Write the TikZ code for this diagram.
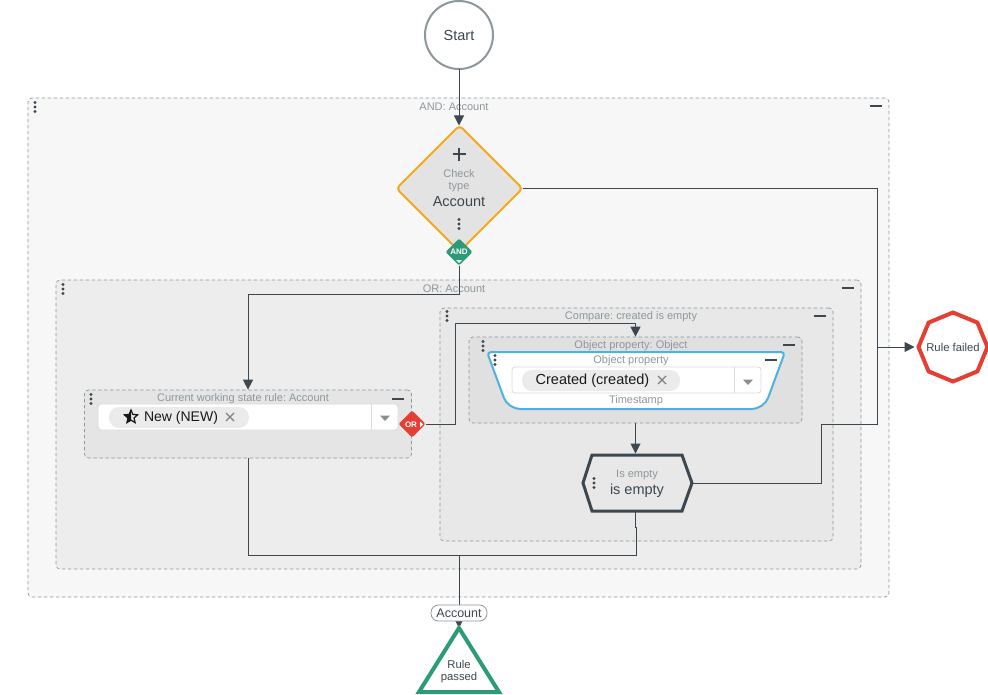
\documentclass[tikz,border=0pt]{standalone}
\usepackage{fontspec}
\setmainfont{Liberation Sans}
\usetikzlibrary{arrows.meta,shapes.geometric}

\definecolor{inkdark}{HTML}{3C4750}
\definecolor{inkgrey}{HTML}{8E979C}
\definecolor{gateorange}{HTML}{F5A81C}
\definecolor{gategreen}{HTML}{2E9B78}
\definecolor{gatered}{HTML}{E53F35}
\definecolor{propblue}{HTML}{4FB0E4}

\tikzset{
  group/.style = {draw=inkgrey, dashed, dash pattern=on 3.5pt off 2.5pt, line width=0.7pt, rounded corners=4pt},
  title/.style = {inkgrey, font=\fontsize{11}{12}\selectfont, inner sep=0pt, yshift=-1pt},
  label/.style = {inkdark, font=\fontsize{14.5}{16}\selectfont, inner sep=0pt, yshift=-1pt},
  small/.style = {inkdark, font=\fontsize{11.3}{12}\selectfont, inner sep=0pt},
  wire/.style = {draw=inkdark, line width=1pt},
  tip/.style = {-{Triangle[length=10pt,width=10pt]}},
  inputbox/.style = {draw=black!14, fill=white, line width=0.8pt, rounded corners=3pt},
  chip/.style = {fill=black!8, rounded corners=10pt},
  hidden/.style = {inner sep=0pt, outer sep=0pt}
}

\begin{document}
\frenchspacing
\begin{tikzpicture}[x=1pt,y=-1pt]
\useasboundingbox (0,0) rectangle (988,695);

% nested groups
\node (groupand) [group, fill=black!3, minimum width=861, minimum height=499] at (458.5,347.5) {};
\node (groupor) [group, fill=black!7, minimum width=805, minimum height=289] at (458.5,424.5) {};
\node (groupcmp) [group, fill=black!9, minimum width=393, minimum height=233] at (636.5,424.5) {};
\node (groupprop) [group, fill=black!12, minimum width=333, minimum height=86] at (635.5,380) {};
\node (current) [group, fill=black!10, minimum width=327, minimum height=68] at (248,424) {};

\node (titleand) [title] at (454,106) {AND: Account};
\node (titleor) [title] at (454,288) {OR: Account};
\node (titlecmp) [title] at (631,316) {Compare: created is empty};
\node (titleprop) [title] at (631,345) {Object property: Object};
\node (titlecur) [title] at (243,398) {Current working state rule: Account};

% named points of the shapes without a node outline
\node (start) [circle, draw=inkgrey, fill=white, line width=2pt, minimum size=68, hidden] at (459,35) {};
\node (check) [diamond, draw=gateorange, fill=black!11, line width=2pt, rounded corners=4pt, minimum width=126, minimum height=126, hidden] at (459.5,188.5) {};
\node (isempty) [minimum width=109, minimum height=56, hidden] at (637.5,483) {};
\node (failed) [regular polygon, regular polygon sides=8, shape border rotate=22.5, draw=gatered, fill=white, line width=4pt, minimum size=69, hidden] at (953,347) {};
\node (passed) [minimum width=80, minimum height=64, hidden] at (459,660) {};
\node (andgate) [diamond, fill=gategreen, rounded corners=2pt, minimum size=27, hidden] at (459,252) {};
\node (orgate) [diamond, fill=gatered, rounded corners=2pt, minimum size=27, hidden] at (412,424) {};
\coordinate (failjoin) at (877,347);
\coordinate (passjoin) at (459,555);

% connectors
\draw[wire,tip] (start.south) -- (start.south |- check.north);
\draw[wire,tip] (andgate) -- ++(0,42) -| (current.north);
\draw[wire] (check.east) -| (failjoin);
\draw[wire,tip,shorten >=4pt] (failjoin) -- (failed.west);
\draw[wire,tip] (orgate.east) -- ++(29.5,0) -- ++(0,-101) -| (groupprop.north);
\draw[wire,tip,shorten >=1.5pt] (groupprop.south) -- (groupprop.south |- isempty.north);
\draw[wire] (isempty.east) -- ++(129,0) -- ++(0,-59) -| (failjoin);
\draw[wire] (current.south) |- (passjoin);
\draw[wire] (groupprop.south |- isempty.south) -- ++(0,16) -- ++(1,0) |- (passjoin);
\draw[wire,tip] (passjoin) -- (passed.north);

% check type
\draw[inkdark, line width=2pt] (452.5,154.5) -- (465.5,154.5) (459,148) -- (459,161);
\node (checka) [title] at (459,173) {Check};
\node (checkb) [title] at (459,186) {type};
\node (checkc) [label] at (459,201) {Account};

\node (andtext) [hidden, white, font=\bfseries\fontsize{8}{8}\selectfont] at (459,251.5) {AND};
\fill[white] (456,260) -- (462,260) -- (459,263) -- cycle;
\node (ortext) [hidden, white, font=\bfseries\fontsize{8}{8}\selectfont] at (411,424.5) {OR};
\fill[white] (420,421.5) -- (423,424.5) -- (420,427.5) -- cycle;

% current working state input
\node (inputcur) [inputbox, minimum width=300, minimum height=26, hidden] at (248,417) {};
\draw[black!14, line width=0.8pt] (371,404) -- (371,430);
\node (chipcur) [chip, minimum width=140, minimum height=21, hidden] at (179,417.5) {};
\node (textcur) [label, black!90, font=\fontsize{14}{16}\selectfont] at (181,417) {New (NEW)};
\node (starcur) [star, star points=5, star point ratio=2.2, draw=black!90, line width=1.2pt, minimum size=14, hidden] at (131,417) {};
\begin{scope}
\clip (120,405) rectangle (131,430);
\node (starfill) [star, star points=5, star point ratio=2.2, fill=black!90, minimum size=14, hidden] at (131,417) {};
\end{scope}

% object property
\draw[draw=propblue, fill=white, line width=2pt] (497,352) [rounded corners=4pt] -- (487,352) [rounded corners=12pt] -- (508,409) -- (764,409) [rounded corners=4pt] -- (785,352) -- cycle;
\node (titleinner) [title] at (631,360) {Object property};
\node (inputprop) [inputbox, minimum width=249, minimum height=26, hidden] at (636.5,380) {};
\draw[black!14, line width=0.8pt] (734,367) -- (734,393);
\node (chipprop) [chip, minimum width=158, minimum height=21, hidden] at (601,380.5) {};
\node (textprop) [label, black!90] at (592.5,380) {Created (created)};
\node (stamp) [title] at (636,400) {Timestamp};

% is empty
\draw[draw=inkdark, fill=black!9, line width=3pt, line join=miter] (isempty.west) -- (592,455) -- (682,455) -- (isempty.east) -- (682,511) -- (592,511) -- cycle;
\node (emptya) [title] at (637,474) {Is empty};
\node (emptyb) [label] at (637,490) {is empty};

% end points
\node (starttext) [label] at (459,35) {Start};
\node (failedtext) [small] at (953,347) {Rule failed};
\node (account) [draw=inkgrey, fill=white, rounded corners=7.5pt, line width=0.8pt, minimum width=56, minimum height=16, text=inkdark, font=\fontsize{12.5}{14}\selectfont, hidden] at (459,613) {Account};
\draw[draw=gategreen, fill=white, line width=4pt] (passed.north) -- (passed.south east) -- (passed.south west) -- cycle;
\node (passeda) [small] at (459,664) {Rule};
\node (passedb) [small] at (459,677.5) {passed};

% icons
\foreach \x/\y in {876/106, 848/288, 820/316, 789/345, 771/360, 398/399} {\draw[inkdark, line width=1.8pt] (\x-6,\y) -- (\x+6,\y);}
\foreach \x/\y in {35/107, 63/289, 447/316, 483/346, 495/360, 91/399, 459/224, 594/483} {
  \fill[inkdark] (\x,\y-4.5) circle (1.6);
  \fill[inkdark] (\x,\y) circle (1.6);
  \fill[inkdark] (\x,\y+4.5) circle (1.6);
}
\foreach \x/\y in {230/417, 662/380} {\draw[black!50, line width=1.4pt] (\x-4,\y-4) -- (\x+4,\y+4) (\x-4,\y+4) -- (\x+4,\y-4);}
\foreach \x/\y in {385/418, 748/382} {\fill[black!45] (\x-5,\y-2.5) -- (\x+5,\y-2.5) -- (\x,\y+3) -- cycle;}

\end{tikzpicture}
\end{document}
